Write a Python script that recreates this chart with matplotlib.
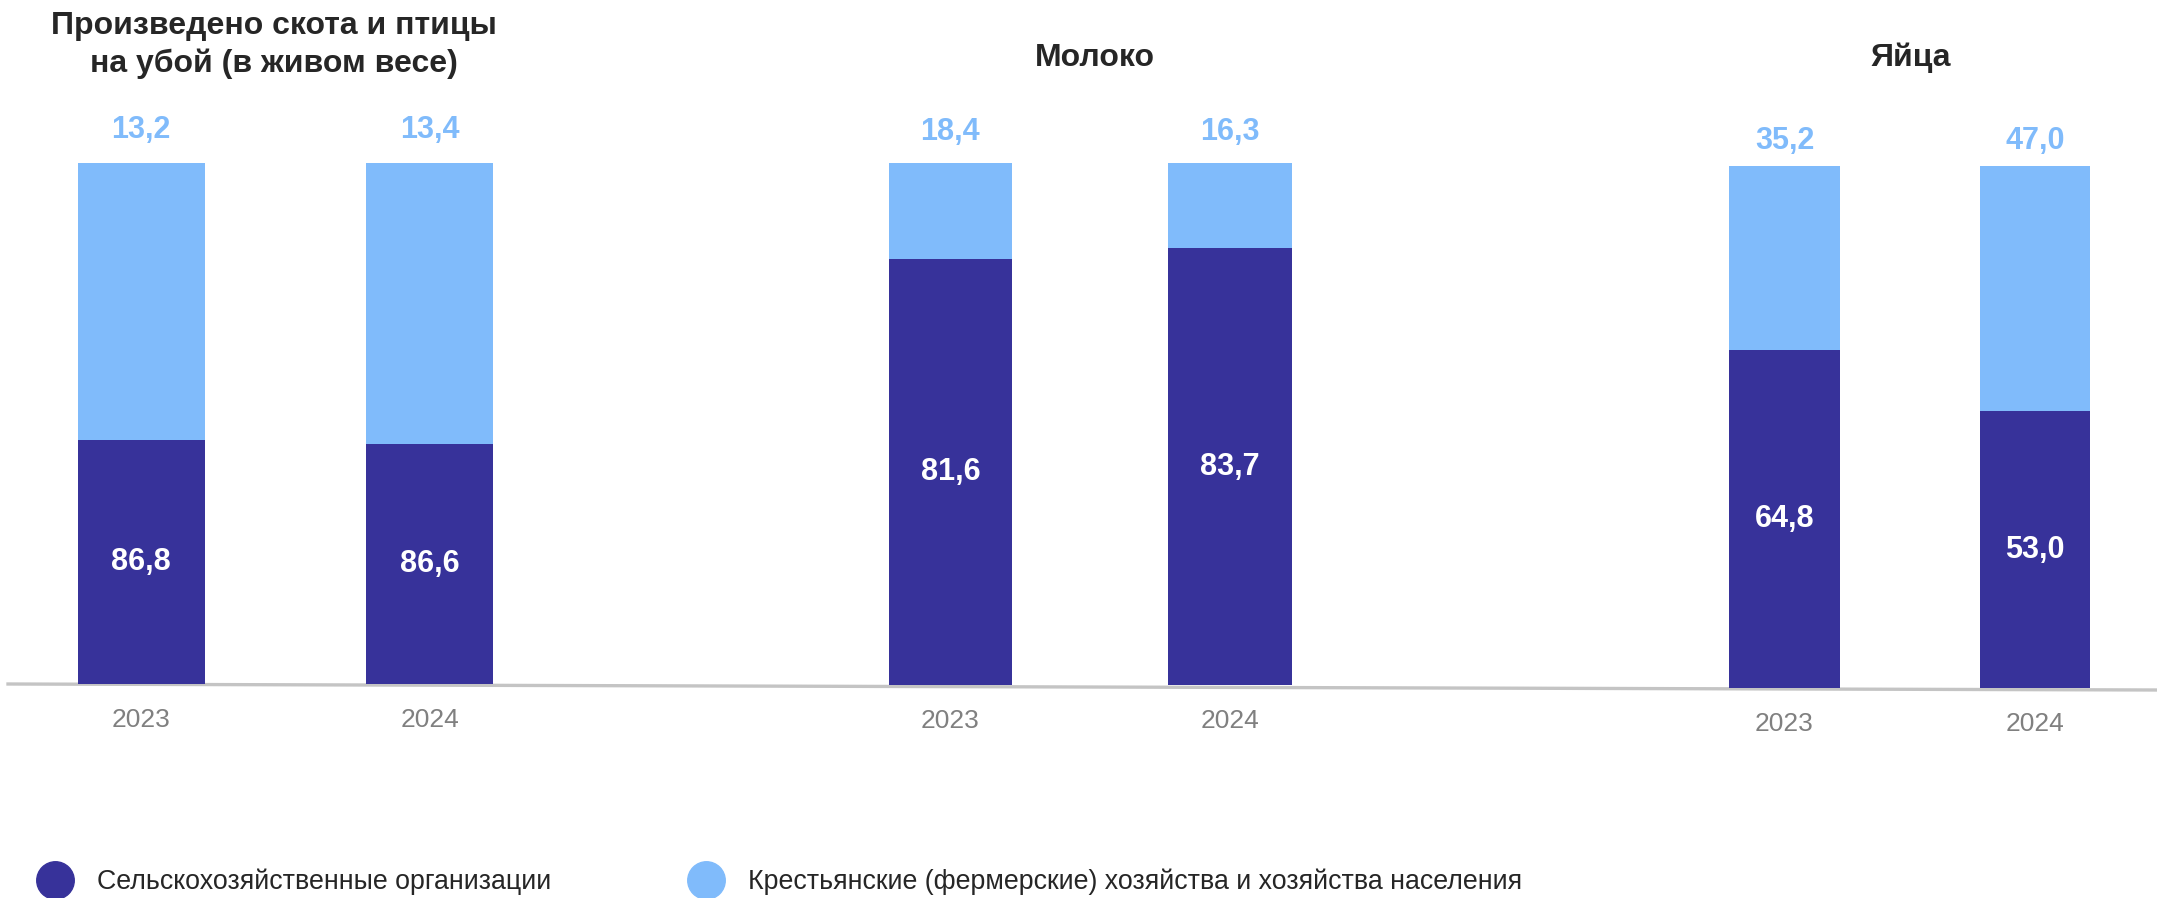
import matplotlib
matplotlib.use('Agg')
import matplotlib.pyplot as plt
from matplotlib.lines import Line2D

### Data
titles = ['Произведено скота и птицы\nна убой (в живом весе)', 'Молоко', 'Яйца']
years = ['2023', '2024']
# labels (%)
org_share = [[86.8, 86.6], [81.6, 83.7], [64.8, 53.0]]
farm_share = [[13.2, 13.4], [18.4, 16.3], [35.2, 47.0]]
# bar heights as drawn in the source chart (first group is not to scale there)
org_bar = [[46.8, 46.1], [81.6, 83.7], [64.8, 53.0]]
legend_names = ['Сельскохозяйственные организации',
                'Крестьянские (фермерские) хозяйства и хозяйства населения']

DARK = '#37329a'
LIGHT = '#80bbfb'

plt.rcParams['font.family'] = ['Liberation Sans', 'DejaVu Sans']

W, H = 2157, 898
fig = plt.figure(figsize=(W / 100, H / 100), dpi=100)

# panel layout in pixels: bar centres, baseline, top of 100 %, label offset (pt)
layout = [
    dict(c0=141.3, c1=429.8, base=684, top=163, lab=24),
    dict(c0=950.4, c1=1230.0, base=685, top=163, lab=22),
    dict(c0=1784.5, c1=2035.0, base=688, top=166, lab=18),
]
title_pos = [(274, 45), (1095, 58), (1911, 58)]

def fmt(v):
    return ('%.1f' % v).replace('.', ',')

x0, x1 = -0.4, 1.4
for i, L in enumerate(layout):
    d = L['c1'] - L['c0']
    left = L['c0'] + x0 * d
    right = L['c0'] + x1 * d
    ax = fig.add_axes([left / W, 1 - L['base'] / H, (right - left) / W, (L['base'] - L['top']) / H])
    ax.patch.set_visible(False)
    xs = [0, 1]
    rest = [100 - v for v in org_bar[i]]
    ax.bar(xs, org_bar[i], width=0.44, color=DARK)
    ax.bar(xs, rest, bottom=org_bar[i], width=0.44, color=LIGHT)
    ax.set_xlim(x0, x1)
    ax.set_ylim(0, 100)
    for j in range(2):
        ax.text(xs[j], org_bar[i][j] / 2, fmt(org_share[i][j]), ha='center', va='center',
                color='white', fontsize=22, fontweight='bold')
        ax.annotate(fmt(farm_share[i][j]), (xs[j], 100), xytext=(0, L['lab']), textcoords='offset points',
                    ha='center', va='center', color=LIGHT, fontsize=22, fontweight='bold')
    ax.set_xticks(xs, years)
    ax.tick_params(axis='x', length=0, pad=17, labelsize=19, labelcolor='#808080')
    ax.set_yticks([])
    for s in ax.spines.values():
        s.set_visible(False)
    tx, ty = title_pos[i]
    fig.text(tx / W, 1 - ty / H, titles[i], ha='center', va='center', fontsize=23,
             fontweight='bold', color='#262626', linespacing=1.35)

# baseline across the whole width
fig.add_artist(Line2D([8 / W, 1.0], [1 - 684 / H, 1 - 690 / H], color='#c4c4c4', lw=2.4,
                      transform=fig.transFigure, zorder=-1))

handles = [Line2D([], [], marker='o', ls='', markersize=27, color=c) for c in (DARK, LIGHT)]
fig.legend(handles, legend_names, loc='center left', bbox_to_anchor=(39 / W, 1 - 882 / H),
           ncol=2, frameon=False, fontsize=19.3, labelcolor='#262626', handletextpad=0.95,
           columnspacing=5.2, handlelength=1.2, borderpad=0, borderaxespad=0)

plt.savefig('out.png', dpi=100)
